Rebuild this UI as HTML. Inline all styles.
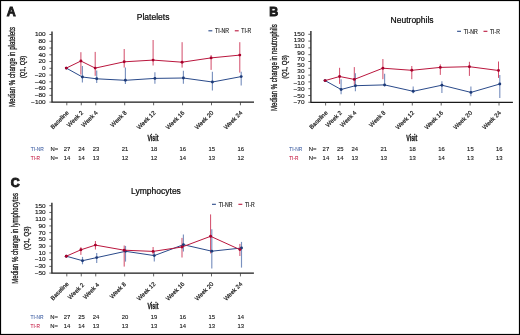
<!DOCTYPE html>
<html><head><meta charset="utf-8"><style>
html,body{margin:0;padding:0;background:#fff;}
body{width:520px;height:335px;overflow:hidden;}
svg{display:block;will-change:transform;font-family:"Liberation Sans", sans-serif;}
</style></head><body>
<svg width="520" height="335" viewBox="0 0 520 335">
<rect x="0" y="0" width="520" height="335" fill="#fff"/>
<path d="M52.0 31.4 V102.1 H254" fill="none" stroke="#1a1a1a" stroke-width="1.3"/>
<line x1="49.4" y1="34.5" x2="52.0" y2="34.5" stroke="#333" stroke-width="0.75"/>
<line x1="49.4" y1="41.26" x2="52.0" y2="41.26" stroke="#333" stroke-width="0.75"/>
<line x1="49.4" y1="48.02" x2="52.0" y2="48.02" stroke="#333" stroke-width="0.75"/>
<line x1="49.4" y1="54.78" x2="52.0" y2="54.78" stroke="#333" stroke-width="0.75"/>
<line x1="49.4" y1="61.54" x2="52.0" y2="61.54" stroke="#333" stroke-width="0.75"/>
<line x1="49.4" y1="68.3" x2="52.0" y2="68.3" stroke="#333" stroke-width="0.75"/>
<line x1="49.4" y1="75.06" x2="52.0" y2="75.06" stroke="#333" stroke-width="0.75"/>
<line x1="49.4" y1="81.82" x2="52.0" y2="81.82" stroke="#333" stroke-width="0.75"/>
<line x1="49.4" y1="88.58" x2="52.0" y2="88.58" stroke="#333" stroke-width="0.75"/>
<line x1="49.4" y1="95.34" x2="52.0" y2="95.34" stroke="#333" stroke-width="0.75"/>
<line x1="49.4" y1="102.1" x2="52.0" y2="102.1" stroke="#333" stroke-width="0.75"/>
<text x="0" y="0" font-size="5.9" text-anchor="end" fill="#1a1a1a" font-weight="normal" stroke="#1a1a1a" stroke-width="0.15" transform="translate(45.7 36.35) scale(1.1 1)">100</text>
<text x="0" y="0" font-size="5.9" text-anchor="end" fill="#1a1a1a" font-weight="normal" stroke="#1a1a1a" stroke-width="0.15" transform="translate(45.7 43.11) scale(1.1 1)">80</text>
<text x="0" y="0" font-size="5.9" text-anchor="end" fill="#1a1a1a" font-weight="normal" stroke="#1a1a1a" stroke-width="0.15" transform="translate(45.7 49.87) scale(1.1 1)">60</text>
<text x="0" y="0" font-size="5.9" text-anchor="end" fill="#1a1a1a" font-weight="normal" stroke="#1a1a1a" stroke-width="0.15" transform="translate(45.7 56.63) scale(1.1 1)">40</text>
<text x="0" y="0" font-size="5.9" text-anchor="end" fill="#1a1a1a" font-weight="normal" stroke="#1a1a1a" stroke-width="0.15" transform="translate(45.7 63.39) scale(1.1 1)">20</text>
<text x="0" y="0" font-size="5.9" text-anchor="end" fill="#1a1a1a" font-weight="normal" stroke="#1a1a1a" stroke-width="0.15" transform="translate(45.7 70.15) scale(1.1 1)">0</text>
<text x="0" y="0" font-size="5.9" text-anchor="end" fill="#1a1a1a" font-weight="normal" stroke="#1a1a1a" stroke-width="0.15" transform="translate(45.7 76.91) scale(1.1 1)">−20</text>
<text x="0" y="0" font-size="5.9" text-anchor="end" fill="#1a1a1a" font-weight="normal" stroke="#1a1a1a" stroke-width="0.15" transform="translate(45.7 83.67) scale(1.1 1)">−40</text>
<text x="0" y="0" font-size="5.9" text-anchor="end" fill="#1a1a1a" font-weight="normal" stroke="#1a1a1a" stroke-width="0.15" transform="translate(45.7 90.43) scale(1.1 1)">−60</text>
<text x="0" y="0" font-size="5.9" text-anchor="end" fill="#1a1a1a" font-weight="normal" stroke="#1a1a1a" stroke-width="0.15" transform="translate(45.7 97.19) scale(1.1 1)">−80</text>
<text x="0" y="0" font-size="5.9" text-anchor="end" fill="#1a1a1a" font-weight="normal" stroke="#1a1a1a" stroke-width="0.15" transform="translate(45.7 103.95) scale(1.1 1)">−100</text>
<line x1="66.8" y1="102.1" x2="66.8" y2="105.3" stroke="#333" stroke-width="0.75"/>
<text x="69.2" y="113.2" font-size="6.0" text-anchor="end" fill="#1a1a1a" font-weight="normal" stroke="#1a1a1a" stroke-width="0.2" transform="rotate(-45 69.20 113.2)">Baseline</text>
<line x1="81.27" y1="102.1" x2="81.27" y2="105.3" stroke="#333" stroke-width="0.75"/>
<text x="83.67" y="113.2" font-size="6.0" text-anchor="end" fill="#1a1a1a" font-weight="normal" stroke="#1a1a1a" stroke-width="0.2" transform="rotate(-45 83.67 113.2)">Week 2</text>
<line x1="95.74" y1="102.1" x2="95.74" y2="105.3" stroke="#333" stroke-width="0.75"/>
<text x="98.14" y="113.2" font-size="6.0" text-anchor="end" fill="#1a1a1a" font-weight="normal" stroke="#1a1a1a" stroke-width="0.2" transform="rotate(-45 98.14 113.2)">Week 4</text>
<line x1="124.68" y1="102.1" x2="124.68" y2="105.3" stroke="#333" stroke-width="0.75"/>
<text x="127.08" y="113.2" font-size="6.0" text-anchor="end" fill="#1a1a1a" font-weight="normal" stroke="#1a1a1a" stroke-width="0.2" transform="rotate(-45 127.08 113.2)">Week 8</text>
<line x1="153.62" y1="102.1" x2="153.62" y2="105.3" stroke="#333" stroke-width="0.75"/>
<text x="156.02" y="113.2" font-size="6.0" text-anchor="end" fill="#1a1a1a" font-weight="normal" stroke="#1a1a1a" stroke-width="0.2" transform="rotate(-45 156.02 113.2)">Week 12</text>
<line x1="182.56" y1="102.1" x2="182.56" y2="105.3" stroke="#333" stroke-width="0.75"/>
<text x="184.96" y="113.2" font-size="6.0" text-anchor="end" fill="#1a1a1a" font-weight="normal" stroke="#1a1a1a" stroke-width="0.2" transform="rotate(-45 184.96 113.2)">Week 16</text>
<line x1="211.5" y1="102.1" x2="211.5" y2="105.3" stroke="#333" stroke-width="0.75"/>
<text x="213.9" y="113.2" font-size="6.0" text-anchor="end" fill="#1a1a1a" font-weight="normal" stroke="#1a1a1a" stroke-width="0.2" transform="rotate(-45 213.90 113.2)">Week 20</text>
<line x1="240.44" y1="102.1" x2="240.44" y2="105.3" stroke="#333" stroke-width="0.75"/>
<text x="242.84" y="113.2" font-size="6.0" text-anchor="end" fill="#1a1a1a" font-weight="normal" stroke="#1a1a1a" stroke-width="0.2" transform="rotate(-45 242.84 113.2)">Week 24</text>
<text x="153.1" y="20.2" font-size="8.5" text-anchor="middle" fill="#0a0a0a" font-weight="normal" stroke="#0a0a0a" stroke-width="0.22" >Platelets</text>
<line x1="208.4" y1="30.8" x2="212.3" y2="30.8" stroke="#2a4a8a" stroke-width="1.1"/>
<text x="215.1" y="33.3" font-size="6.6" text-anchor="start" fill="#1a1a1a" font-weight="normal" textLength="13.9" lengthAdjust="spacingAndGlyphs" stroke="#1a1a1a" stroke-width="0.15" >TI-NR</text>
<line x1="234.8" y1="30.8" x2="238.7" y2="30.8" stroke="#ba163d" stroke-width="1.1"/>
<text x="241.3" y="33.3" font-size="6.6" text-anchor="start" fill="#1a1a1a" font-weight="normal" textLength="9.9" lengthAdjust="spacingAndGlyphs" stroke="#1a1a1a" stroke-width="0.15" >TI-R</text>
<text x="14.5" y="67.0" font-size="8.2" text-anchor="middle" fill="#1a1a1a" font-weight="normal" textLength="80.1" lengthAdjust="spacingAndGlyphs" stroke="#1a1a1a" stroke-width="0.3" transform="rotate(-90 14.5 67.0)">Median % change in platelets</text>
<text x="25.5" y="66.9" font-size="7.2" text-anchor="middle" fill="#1a1a1a" font-weight="normal" textLength="22.4" lengthAdjust="spacingAndGlyphs" stroke="#1a1a1a" stroke-width="0.3" transform="rotate(-90 25.5 66.9)">(Q1, Q3)</text>
<text x="147.4" y="140.5" font-size="8.6" text-anchor="start" fill="#1a1a1a" font-weight="bold" textLength="11.2" lengthAdjust="spacingAndGlyphs" stroke="#1a1a1a" stroke-width="0.3" >Visit</text>
<text x="30.8" y="151" font-size="5.9" text-anchor="start" fill="#4a68a8" font-weight="normal" textLength="13" lengthAdjust="spacingAndGlyphs" stroke="#4a68a8" stroke-width="0.1" >TI-NR</text>
<text x="30.8" y="159.9" font-size="5.9" text-anchor="start" fill="#c8284e" font-weight="normal" textLength="9.2" lengthAdjust="spacingAndGlyphs" stroke="#c8284e" stroke-width="0.1" >TI-R</text>
<text x="50.400000000000006" y="151" font-size="5.9" text-anchor="start" fill="#1a1a1a" font-weight="normal" stroke="#1a1a1a" stroke-width="0.12" >N=</text>
<text x="50.400000000000006" y="159.9" font-size="5.9" text-anchor="start" fill="#1a1a1a" font-weight="normal" stroke="#1a1a1a" stroke-width="0.12" >N=</text>
<text x="67.1" y="151" font-size="5.9" text-anchor="middle" fill="#1a1a1a" font-weight="normal" stroke="#1a1a1a" stroke-width="0.12" >27</text>
<text x="67.1" y="159.9" font-size="5.9" text-anchor="middle" fill="#1a1a1a" font-weight="normal" stroke="#1a1a1a" stroke-width="0.12" >14</text>
<text x="81.57" y="151" font-size="5.9" text-anchor="middle" fill="#1a1a1a" font-weight="normal" stroke="#1a1a1a" stroke-width="0.12" >24</text>
<text x="81.57" y="159.9" font-size="5.9" text-anchor="middle" fill="#1a1a1a" font-weight="normal" stroke="#1a1a1a" stroke-width="0.12" >14</text>
<text x="96.04" y="151" font-size="5.9" text-anchor="middle" fill="#1a1a1a" font-weight="normal" stroke="#1a1a1a" stroke-width="0.12" >23</text>
<text x="96.04" y="159.9" font-size="5.9" text-anchor="middle" fill="#1a1a1a" font-weight="normal" stroke="#1a1a1a" stroke-width="0.12" >13</text>
<text x="124.98" y="151" font-size="5.9" text-anchor="middle" fill="#1a1a1a" font-weight="normal" stroke="#1a1a1a" stroke-width="0.12" >21</text>
<text x="124.98" y="159.9" font-size="5.9" text-anchor="middle" fill="#1a1a1a" font-weight="normal" stroke="#1a1a1a" stroke-width="0.12" >12</text>
<text x="153.92" y="151" font-size="5.9" text-anchor="middle" fill="#1a1a1a" font-weight="normal" stroke="#1a1a1a" stroke-width="0.12" >18</text>
<text x="153.92" y="159.9" font-size="5.9" text-anchor="middle" fill="#1a1a1a" font-weight="normal" stroke="#1a1a1a" stroke-width="0.12" >12</text>
<text x="182.86" y="151" font-size="5.9" text-anchor="middle" fill="#1a1a1a" font-weight="normal" stroke="#1a1a1a" stroke-width="0.12" >16</text>
<text x="182.86" y="159.9" font-size="5.9" text-anchor="middle" fill="#1a1a1a" font-weight="normal" stroke="#1a1a1a" stroke-width="0.12" >14</text>
<text x="211.8" y="151" font-size="5.9" text-anchor="middle" fill="#1a1a1a" font-weight="normal" stroke="#1a1a1a" stroke-width="0.12" >15</text>
<text x="211.8" y="159.9" font-size="5.9" text-anchor="middle" fill="#1a1a1a" font-weight="normal" stroke="#1a1a1a" stroke-width="0.12" >13</text>
<text x="240.74" y="151" font-size="5.9" text-anchor="middle" fill="#1a1a1a" font-weight="normal" stroke="#1a1a1a" stroke-width="0.12" >16</text>
<text x="240.74" y="159.9" font-size="5.9" text-anchor="middle" fill="#1a1a1a" font-weight="normal" stroke="#1a1a1a" stroke-width="0.12" >12</text>
<line x1="80.9" y1="52.2" x2="80.9" y2="74.6" stroke="#d24a68" stroke-width="1.0"/>
<line x1="95.2" y1="51.9" x2="95.2" y2="75.8" stroke="#d24a68" stroke-width="1.0"/>
<line x1="124.2" y1="49" x2="124.2" y2="67.6" stroke="#d24a68" stroke-width="1.0"/>
<line x1="153.1" y1="40" x2="153.1" y2="65.5" stroke="#d24a68" stroke-width="1.0"/>
<line x1="182.1" y1="42.2" x2="182.1" y2="67.6" stroke="#d24a68" stroke-width="1.0"/>
<line x1="211.1" y1="55.1" x2="211.1" y2="69.9" stroke="#d24a68" stroke-width="1.0"/>
<line x1="239.8" y1="42.2" x2="239.8" y2="72.6" stroke="#d24a68" stroke-width="1.0"/>
<line x1="82.4" y1="66.1" x2="82.4" y2="82.5" stroke="#7a91bf" stroke-width="1.15"/>
<line x1="96.7" y1="70.6" x2="96.7" y2="83" stroke="#7a91bf" stroke-width="1.15"/>
<line x1="125.4" y1="67.6" x2="125.4" y2="84" stroke="#7a91bf" stroke-width="1.15"/>
<line x1="154.9" y1="72.3" x2="154.9" y2="83.7" stroke="#7a91bf" stroke-width="1.15"/>
<line x1="183.4" y1="70.8" x2="183.4" y2="83.7" stroke="#7a91bf" stroke-width="1.15"/>
<line x1="212.4" y1="71.7" x2="212.4" y2="90.6" stroke="#7a91bf" stroke-width="1.15"/>
<line x1="241.2" y1="71.7" x2="241.2" y2="85.5" stroke="#7a91bf" stroke-width="1.15"/>
<path d="M66.3 68.1 L82.4 77 L96.7 78.8 L125.4 80.3 L154.9 78.4 L183.4 78 L212.4 82 L241.2 76.6" fill="none" stroke="#2a4a8a" stroke-width="1.0" stroke-linejoin="round"/>
<circle cx="66.3" cy="68.1" r="1.45" fill="#1d3a78"/>
<circle cx="82.4" cy="77" r="1.45" fill="#1d3a78"/>
<circle cx="96.7" cy="78.8" r="1.45" fill="#1d3a78"/>
<circle cx="125.4" cy="80.3" r="1.45" fill="#1d3a78"/>
<circle cx="154.9" cy="78.4" r="1.45" fill="#1d3a78"/>
<circle cx="183.4" cy="78" r="1.45" fill="#1d3a78"/>
<circle cx="212.4" cy="82" r="1.45" fill="#1d3a78"/>
<circle cx="241.2" cy="76.6" r="1.45" fill="#1d3a78"/>
<path d="M66.3 68.1 L80.9 61 L95.2 68.1 L124.2 61.8 L153.1 60.1 L182.1 62.2 L211.1 57.9 L239.8 55.1" fill="none" stroke="#ba163d" stroke-width="1.0" stroke-linejoin="round"/>
<circle cx="66.3" cy="68.1" r="1.45" fill="#a8002c"/>
<circle cx="80.9" cy="61" r="1.45" fill="#a8002c"/>
<circle cx="95.2" cy="68.1" r="1.45" fill="#a8002c"/>
<circle cx="124.2" cy="61.8" r="1.45" fill="#a8002c"/>
<circle cx="153.1" cy="60.1" r="1.45" fill="#a8002c"/>
<circle cx="182.1" cy="62.2" r="1.45" fill="#a8002c"/>
<circle cx="211.1" cy="57.9" r="1.45" fill="#a8002c"/>
<circle cx="239.8" cy="55.1" r="1.45" fill="#a8002c"/>
<path d="M310.9 31.1 V102.3 H512.9" fill="none" stroke="#1a1a1a" stroke-width="1.3"/>
<line x1="308.3" y1="34.3" x2="310.9" y2="34.3" stroke="#333" stroke-width="0.75"/>
<line x1="308.3" y1="41.1" x2="310.9" y2="41.1" stroke="#333" stroke-width="0.75"/>
<line x1="308.3" y1="47.9" x2="310.9" y2="47.9" stroke="#333" stroke-width="0.75"/>
<line x1="308.3" y1="54.7" x2="310.9" y2="54.7" stroke="#333" stroke-width="0.75"/>
<line x1="308.3" y1="61.5" x2="310.9" y2="61.5" stroke="#333" stroke-width="0.75"/>
<line x1="308.3" y1="68.3" x2="310.9" y2="68.3" stroke="#333" stroke-width="0.75"/>
<line x1="308.3" y1="75.1" x2="310.9" y2="75.1" stroke="#333" stroke-width="0.75"/>
<line x1="308.3" y1="81.9" x2="310.9" y2="81.9" stroke="#333" stroke-width="0.75"/>
<line x1="308.3" y1="88.7" x2="310.9" y2="88.7" stroke="#333" stroke-width="0.75"/>
<line x1="308.3" y1="95.5" x2="310.9" y2="95.5" stroke="#333" stroke-width="0.75"/>
<line x1="308.3" y1="102.3" x2="310.9" y2="102.3" stroke="#333" stroke-width="0.75"/>
<text x="0" y="0" font-size="5.9" text-anchor="end" fill="#1a1a1a" font-weight="normal" stroke="#1a1a1a" stroke-width="0.15" transform="translate(304.5 36.15) scale(1.1 1)">150</text>
<text x="0" y="0" font-size="5.9" text-anchor="end" fill="#1a1a1a" font-weight="normal" stroke="#1a1a1a" stroke-width="0.15" transform="translate(304.5 42.29) scale(1.1 1)">130</text>
<text x="0" y="0" font-size="5.9" text-anchor="end" fill="#1a1a1a" font-weight="normal" stroke="#1a1a1a" stroke-width="0.15" transform="translate(304.5 48.44) scale(1.1 1)">110</text>
<text x="0" y="0" font-size="5.9" text-anchor="end" fill="#1a1a1a" font-weight="normal" stroke="#1a1a1a" stroke-width="0.15" transform="translate(304.5 54.59) scale(1.1 1)">90</text>
<text x="0" y="0" font-size="5.9" text-anchor="end" fill="#1a1a1a" font-weight="normal" stroke="#1a1a1a" stroke-width="0.15" transform="translate(304.5 60.73) scale(1.1 1)">70</text>
<text x="0" y="0" font-size="5.9" text-anchor="end" fill="#1a1a1a" font-weight="normal" stroke="#1a1a1a" stroke-width="0.15" transform="translate(304.5 66.87) scale(1.1 1)">50</text>
<text x="0" y="0" font-size="5.9" text-anchor="end" fill="#1a1a1a" font-weight="normal" stroke="#1a1a1a" stroke-width="0.15" transform="translate(304.5 73.02) scale(1.1 1)">30</text>
<text x="0" y="0" font-size="5.9" text-anchor="end" fill="#1a1a1a" font-weight="normal" stroke="#1a1a1a" stroke-width="0.15" transform="translate(304.5 79.16) scale(1.1 1)">10</text>
<text x="0" y="0" font-size="5.9" text-anchor="end" fill="#1a1a1a" font-weight="normal" stroke="#1a1a1a" stroke-width="0.15" transform="translate(304.5 85.31) scale(1.1 1)">−10</text>
<text x="0" y="0" font-size="5.9" text-anchor="end" fill="#1a1a1a" font-weight="normal" stroke="#1a1a1a" stroke-width="0.15" transform="translate(304.5 91.45) scale(1.1 1)">−30</text>
<text x="0" y="0" font-size="5.9" text-anchor="end" fill="#1a1a1a" font-weight="normal" stroke="#1a1a1a" stroke-width="0.15" transform="translate(304.5 97.6) scale(1.1 1)">−50</text>
<text x="0" y="0" font-size="5.9" text-anchor="end" fill="#1a1a1a" font-weight="normal" stroke="#1a1a1a" stroke-width="0.15" transform="translate(304.5 103.74) scale(1.1 1)">−70</text>
<line x1="325.6" y1="102.3" x2="325.6" y2="105.5" stroke="#333" stroke-width="0.75"/>
<text x="328.0" y="113.2" font-size="6.0" text-anchor="end" fill="#1a1a1a" font-weight="normal" stroke="#1a1a1a" stroke-width="0.2" transform="rotate(-45 328.00 113.2)">Baseline</text>
<line x1="340.05" y1="102.3" x2="340.05" y2="105.5" stroke="#333" stroke-width="0.75"/>
<text x="342.45" y="113.2" font-size="6.0" text-anchor="end" fill="#1a1a1a" font-weight="normal" stroke="#1a1a1a" stroke-width="0.2" transform="rotate(-45 342.45 113.2)">Week 2</text>
<line x1="354.5" y1="102.3" x2="354.5" y2="105.5" stroke="#333" stroke-width="0.75"/>
<text x="356.9" y="113.2" font-size="6.0" text-anchor="end" fill="#1a1a1a" font-weight="normal" stroke="#1a1a1a" stroke-width="0.2" transform="rotate(-45 356.90 113.2)">Week 4</text>
<line x1="383.4" y1="102.3" x2="383.4" y2="105.5" stroke="#333" stroke-width="0.75"/>
<text x="385.8" y="113.2" font-size="6.0" text-anchor="end" fill="#1a1a1a" font-weight="normal" stroke="#1a1a1a" stroke-width="0.2" transform="rotate(-45 385.80 113.2)">Week 8</text>
<line x1="412.3" y1="102.3" x2="412.3" y2="105.5" stroke="#333" stroke-width="0.75"/>
<text x="414.7" y="113.2" font-size="6.0" text-anchor="end" fill="#1a1a1a" font-weight="normal" stroke="#1a1a1a" stroke-width="0.2" transform="rotate(-45 414.70 113.2)">Week 12</text>
<line x1="441.2" y1="102.3" x2="441.2" y2="105.5" stroke="#333" stroke-width="0.75"/>
<text x="443.6" y="113.2" font-size="6.0" text-anchor="end" fill="#1a1a1a" font-weight="normal" stroke="#1a1a1a" stroke-width="0.2" transform="rotate(-45 443.60 113.2)">Week 16</text>
<line x1="470.1" y1="102.3" x2="470.1" y2="105.5" stroke="#333" stroke-width="0.75"/>
<text x="472.5" y="113.2" font-size="6.0" text-anchor="end" fill="#1a1a1a" font-weight="normal" stroke="#1a1a1a" stroke-width="0.2" transform="rotate(-45 472.50 113.2)">Week 20</text>
<line x1="499.0" y1="102.3" x2="499.0" y2="105.5" stroke="#333" stroke-width="0.75"/>
<text x="501.4" y="113.2" font-size="6.0" text-anchor="end" fill="#1a1a1a" font-weight="normal" stroke="#1a1a1a" stroke-width="0.2" transform="rotate(-45 501.40 113.2)">Week 24</text>
<text x="412.1" y="22.8" font-size="8.5" text-anchor="middle" fill="#0a0a0a" font-weight="normal" stroke="#0a0a0a" stroke-width="0.22" >Neutrophils</text>
<line x1="457.1" y1="31.3" x2="461.0" y2="31.3" stroke="#2a4a8a" stroke-width="1.1"/>
<text x="463.8" y="33.8" font-size="6.6" text-anchor="start" fill="#1a1a1a" font-weight="normal" textLength="13.9" lengthAdjust="spacingAndGlyphs" stroke="#1a1a1a" stroke-width="0.15" >TI-NR</text>
<line x1="483.5" y1="31.3" x2="487.4" y2="31.3" stroke="#ba163d" stroke-width="1.1"/>
<text x="490.0" y="33.8" font-size="6.6" text-anchor="start" fill="#1a1a1a" font-weight="normal" textLength="9.9" lengthAdjust="spacingAndGlyphs" stroke="#1a1a1a" stroke-width="0.15" >TI-R</text>
<text x="276.7" y="67.6" font-size="8.2" text-anchor="middle" fill="#1a1a1a" font-weight="normal" textLength="86.7" lengthAdjust="spacingAndGlyphs" stroke="#1a1a1a" stroke-width="0.3" transform="rotate(-90 276.7 67.6)">Median % change in neutrophils</text>
<text x="287.3" y="67.0" font-size="7.2" text-anchor="middle" fill="#1a1a1a" font-weight="normal" textLength="23.6" lengthAdjust="spacingAndGlyphs" stroke="#1a1a1a" stroke-width="0.3" transform="rotate(-90 287.3 67.0)">(Q1, Q3)</text>
<text x="406.2" y="140.5" font-size="8.6" text-anchor="start" fill="#1a1a1a" font-weight="bold" textLength="11.2" lengthAdjust="spacingAndGlyphs" stroke="#1a1a1a" stroke-width="0.3" >Visit</text>
<text x="289.2" y="150.8" font-size="5.9" text-anchor="start" fill="#4a68a8" font-weight="normal" textLength="13" lengthAdjust="spacingAndGlyphs" stroke="#4a68a8" stroke-width="0.1" >TI-NR</text>
<text x="289.2" y="159.6" font-size="5.9" text-anchor="start" fill="#c8284e" font-weight="normal" textLength="9.2" lengthAdjust="spacingAndGlyphs" stroke="#c8284e" stroke-width="0.1" >TI-R</text>
<text x="308.8" y="150.8" font-size="5.9" text-anchor="start" fill="#1a1a1a" font-weight="normal" stroke="#1a1a1a" stroke-width="0.12" >N=</text>
<text x="308.8" y="159.6" font-size="5.9" text-anchor="start" fill="#1a1a1a" font-weight="normal" stroke="#1a1a1a" stroke-width="0.12" >N=</text>
<text x="325.9" y="150.8" font-size="5.9" text-anchor="middle" fill="#1a1a1a" font-weight="normal" stroke="#1a1a1a" stroke-width="0.12" >27</text>
<text x="325.9" y="159.6" font-size="5.9" text-anchor="middle" fill="#1a1a1a" font-weight="normal" stroke="#1a1a1a" stroke-width="0.12" >14</text>
<text x="340.35" y="150.8" font-size="5.9" text-anchor="middle" fill="#1a1a1a" font-weight="normal" stroke="#1a1a1a" stroke-width="0.12" >25</text>
<text x="340.35" y="159.6" font-size="5.9" text-anchor="middle" fill="#1a1a1a" font-weight="normal" stroke="#1a1a1a" stroke-width="0.12" >14</text>
<text x="354.8" y="150.8" font-size="5.9" text-anchor="middle" fill="#1a1a1a" font-weight="normal" stroke="#1a1a1a" stroke-width="0.12" >24</text>
<text x="354.8" y="159.6" font-size="5.9" text-anchor="middle" fill="#1a1a1a" font-weight="normal" stroke="#1a1a1a" stroke-width="0.12" >13</text>
<text x="383.7" y="150.8" font-size="5.9" text-anchor="middle" fill="#1a1a1a" font-weight="normal" stroke="#1a1a1a" stroke-width="0.12" >21</text>
<text x="383.7" y="159.6" font-size="5.9" text-anchor="middle" fill="#1a1a1a" font-weight="normal" stroke="#1a1a1a" stroke-width="0.12" >13</text>
<text x="412.6" y="150.8" font-size="5.9" text-anchor="middle" fill="#1a1a1a" font-weight="normal" stroke="#1a1a1a" stroke-width="0.12" >18</text>
<text x="412.6" y="159.6" font-size="5.9" text-anchor="middle" fill="#1a1a1a" font-weight="normal" stroke="#1a1a1a" stroke-width="0.12" >13</text>
<text x="441.5" y="150.8" font-size="5.9" text-anchor="middle" fill="#1a1a1a" font-weight="normal" stroke="#1a1a1a" stroke-width="0.12" >16</text>
<text x="441.5" y="159.6" font-size="5.9" text-anchor="middle" fill="#1a1a1a" font-weight="normal" stroke="#1a1a1a" stroke-width="0.12" >14</text>
<text x="470.4" y="150.8" font-size="5.9" text-anchor="middle" fill="#1a1a1a" font-weight="normal" stroke="#1a1a1a" stroke-width="0.12" >15</text>
<text x="470.4" y="159.6" font-size="5.9" text-anchor="middle" fill="#1a1a1a" font-weight="normal" stroke="#1a1a1a" stroke-width="0.12" >13</text>
<text x="499.3" y="150.8" font-size="5.9" text-anchor="middle" fill="#1a1a1a" font-weight="normal" stroke="#1a1a1a" stroke-width="0.12" >16</text>
<text x="499.3" y="159.6" font-size="5.9" text-anchor="middle" fill="#1a1a1a" font-weight="normal" stroke="#1a1a1a" stroke-width="0.12" >13</text>
<line x1="339.6" y1="67.8" x2="339.6" y2="83.9" stroke="#d24a68" stroke-width="1.0"/>
<line x1="354.3" y1="67.1" x2="354.3" y2="84.6" stroke="#d24a68" stroke-width="1.0"/>
<line x1="382.9" y1="59" x2="382.9" y2="79.2" stroke="#d24a68" stroke-width="1.0"/>
<line x1="411.8" y1="66" x2="411.8" y2="79.2" stroke="#d24a68" stroke-width="1.0"/>
<line x1="440.3" y1="64.4" x2="440.3" y2="74.9" stroke="#d24a68" stroke-width="1.0"/>
<line x1="469.4" y1="61.8" x2="469.4" y2="75.9" stroke="#d24a68" stroke-width="1.0"/>
<line x1="498.5" y1="61.5" x2="498.5" y2="77.9" stroke="#d24a68" stroke-width="1.0"/>
<line x1="341.1" y1="79.2" x2="341.1" y2="94.3" stroke="#7a91bf" stroke-width="1.15"/>
<line x1="355.4" y1="73.2" x2="355.4" y2="91.3" stroke="#7a91bf" stroke-width="1.15"/>
<line x1="384.6" y1="73.8" x2="384.6" y2="86.6" stroke="#7a91bf" stroke-width="1.15"/>
<line x1="413.2" y1="86.6" x2="413.2" y2="93.3" stroke="#7a91bf" stroke-width="1.15"/>
<line x1="441.9" y1="81.2" x2="441.9" y2="92.9" stroke="#7a91bf" stroke-width="1.15"/>
<line x1="470.9" y1="86.5" x2="470.9" y2="96.3" stroke="#7a91bf" stroke-width="1.15"/>
<line x1="499.8" y1="75" x2="499.8" y2="98" stroke="#7a91bf" stroke-width="1.15"/>
<path d="M325.1 80.6 L341.1 89.5 L355.4 85.7 L384.6 84.9 L413.2 91.3 L441.9 85.2 L470.9 92.4 L499.8 84" fill="none" stroke="#2a4a8a" stroke-width="1.0" stroke-linejoin="round"/>
<circle cx="325.1" cy="80.6" r="1.45" fill="#1d3a78"/>
<circle cx="341.1" cy="89.5" r="1.45" fill="#1d3a78"/>
<circle cx="355.4" cy="85.7" r="1.45" fill="#1d3a78"/>
<circle cx="384.6" cy="84.9" r="1.45" fill="#1d3a78"/>
<circle cx="413.2" cy="91.3" r="1.45" fill="#1d3a78"/>
<circle cx="441.9" cy="85.2" r="1.45" fill="#1d3a78"/>
<circle cx="470.9" cy="92.4" r="1.45" fill="#1d3a78"/>
<circle cx="499.8" cy="84" r="1.45" fill="#1d3a78"/>
<path d="M325.1 80.6 L339.6 76.5 L354.3 79.4 L382.9 68.2 L411.8 70.3 L440.3 67.4 L469.4 66.7 L498.5 70.5" fill="none" stroke="#ba163d" stroke-width="1.0" stroke-linejoin="round"/>
<circle cx="325.1" cy="80.6" r="1.45" fill="#a8002c"/>
<circle cx="339.6" cy="76.5" r="1.45" fill="#a8002c"/>
<circle cx="354.3" cy="79.4" r="1.45" fill="#a8002c"/>
<circle cx="382.9" cy="68.2" r="1.45" fill="#a8002c"/>
<circle cx="411.8" cy="70.3" r="1.45" fill="#a8002c"/>
<circle cx="440.3" cy="67.4" r="1.45" fill="#a8002c"/>
<circle cx="469.4" cy="66.7" r="1.45" fill="#a8002c"/>
<circle cx="498.5" cy="70.5" r="1.45" fill="#a8002c"/>
<path d="M51.9 202.7 V273.2 H253.9" fill="none" stroke="#1a1a1a" stroke-width="1.3"/>
<line x1="49.3" y1="205.7" x2="51.9" y2="205.7" stroke="#333" stroke-width="0.75"/>
<line x1="49.3" y1="212.44" x2="51.9" y2="212.44" stroke="#333" stroke-width="0.75"/>
<line x1="49.3" y1="219.18" x2="51.9" y2="219.18" stroke="#333" stroke-width="0.75"/>
<line x1="49.3" y1="225.92" x2="51.9" y2="225.92" stroke="#333" stroke-width="0.75"/>
<line x1="49.3" y1="232.66" x2="51.9" y2="232.66" stroke="#333" stroke-width="0.75"/>
<line x1="49.3" y1="239.4" x2="51.9" y2="239.4" stroke="#333" stroke-width="0.75"/>
<line x1="49.3" y1="246.14" x2="51.9" y2="246.14" stroke="#333" stroke-width="0.75"/>
<line x1="49.3" y1="252.88" x2="51.9" y2="252.88" stroke="#333" stroke-width="0.75"/>
<line x1="49.3" y1="259.62" x2="51.9" y2="259.62" stroke="#333" stroke-width="0.75"/>
<line x1="49.3" y1="266.36" x2="51.9" y2="266.36" stroke="#333" stroke-width="0.75"/>
<line x1="49.3" y1="273.1" x2="51.9" y2="273.1" stroke="#333" stroke-width="0.75"/>
<text x="0" y="0" font-size="5.9" text-anchor="end" fill="#1a1a1a" font-weight="normal" stroke="#1a1a1a" stroke-width="0.15" transform="translate(45.7 207.55) scale(1.1 1)">150</text>
<text x="0" y="0" font-size="5.9" text-anchor="end" fill="#1a1a1a" font-weight="normal" stroke="#1a1a1a" stroke-width="0.15" transform="translate(45.7 214.29) scale(1.1 1)">130</text>
<text x="0" y="0" font-size="5.9" text-anchor="end" fill="#1a1a1a" font-weight="normal" stroke="#1a1a1a" stroke-width="0.15" transform="translate(45.7 221.03) scale(1.1 1)">110</text>
<text x="0" y="0" font-size="5.9" text-anchor="end" fill="#1a1a1a" font-weight="normal" stroke="#1a1a1a" stroke-width="0.15" transform="translate(45.7 227.77) scale(1.1 1)">90</text>
<text x="0" y="0" font-size="5.9" text-anchor="end" fill="#1a1a1a" font-weight="normal" stroke="#1a1a1a" stroke-width="0.15" transform="translate(45.7 234.51) scale(1.1 1)">70</text>
<text x="0" y="0" font-size="5.9" text-anchor="end" fill="#1a1a1a" font-weight="normal" stroke="#1a1a1a" stroke-width="0.15" transform="translate(45.7 241.25) scale(1.1 1)">50</text>
<text x="0" y="0" font-size="5.9" text-anchor="end" fill="#1a1a1a" font-weight="normal" stroke="#1a1a1a" stroke-width="0.15" transform="translate(45.7 247.99) scale(1.1 1)">30</text>
<text x="0" y="0" font-size="5.9" text-anchor="end" fill="#1a1a1a" font-weight="normal" stroke="#1a1a1a" stroke-width="0.15" transform="translate(45.7 254.73) scale(1.1 1)">10</text>
<text x="0" y="0" font-size="5.9" text-anchor="end" fill="#1a1a1a" font-weight="normal" stroke="#1a1a1a" stroke-width="0.15" transform="translate(45.7 261.47) scale(1.1 1)">−10</text>
<text x="0" y="0" font-size="5.9" text-anchor="end" fill="#1a1a1a" font-weight="normal" stroke="#1a1a1a" stroke-width="0.15" transform="translate(45.7 268.21) scale(1.1 1)">−30</text>
<text x="0" y="0" font-size="5.9" text-anchor="end" fill="#1a1a1a" font-weight="normal" stroke="#1a1a1a" stroke-width="0.15" transform="translate(45.7 274.95) scale(1.1 1)">−50</text>
<line x1="66.8" y1="273.2" x2="66.8" y2="276.4" stroke="#333" stroke-width="0.75"/>
<text x="69.2" y="284.4" font-size="6.0" text-anchor="end" fill="#1a1a1a" font-weight="normal" stroke="#1a1a1a" stroke-width="0.2" transform="rotate(-45 69.20 284.4)">Baseline</text>
<line x1="81.27" y1="273.2" x2="81.27" y2="276.4" stroke="#333" stroke-width="0.75"/>
<text x="84.67" y="285.4" font-size="6.0" text-anchor="end" fill="#1a1a1a" font-weight="normal" stroke="#1a1a1a" stroke-width="0.2" transform="rotate(-45 84.67 285.4)">Week 2</text>
<line x1="95.74" y1="273.2" x2="95.74" y2="276.4" stroke="#333" stroke-width="0.75"/>
<text x="99.74" y="285.2" font-size="6.0" text-anchor="end" fill="#1a1a1a" font-weight="normal" stroke="#1a1a1a" stroke-width="0.2" transform="rotate(-45 99.74 285.2)">Week 4</text>
<line x1="124.68" y1="273.2" x2="124.68" y2="276.4" stroke="#333" stroke-width="0.75"/>
<text x="126.48" y="284.7" font-size="6.0" text-anchor="end" fill="#1a1a1a" font-weight="normal" stroke="#1a1a1a" stroke-width="0.2" transform="rotate(-45 126.48 284.7)">Week 8</text>
<line x1="153.62" y1="273.2" x2="153.62" y2="276.4" stroke="#333" stroke-width="0.75"/>
<text x="156.02" y="284.4" font-size="6.0" text-anchor="end" fill="#1a1a1a" font-weight="normal" stroke="#1a1a1a" stroke-width="0.2" transform="rotate(-45 156.02 284.4)">Week 12</text>
<line x1="182.56" y1="273.2" x2="182.56" y2="276.4" stroke="#333" stroke-width="0.75"/>
<text x="184.96" y="284.4" font-size="6.0" text-anchor="end" fill="#1a1a1a" font-weight="normal" stroke="#1a1a1a" stroke-width="0.2" transform="rotate(-45 184.96 284.4)">Week 16</text>
<line x1="211.5" y1="273.2" x2="211.5" y2="276.4" stroke="#333" stroke-width="0.75"/>
<text x="213.9" y="284.4" font-size="6.0" text-anchor="end" fill="#1a1a1a" font-weight="normal" stroke="#1a1a1a" stroke-width="0.2" transform="rotate(-45 213.90 284.4)">Week 20</text>
<line x1="240.44" y1="273.2" x2="240.44" y2="276.4" stroke="#333" stroke-width="0.75"/>
<text x="242.84" y="284.4" font-size="6.0" text-anchor="end" fill="#1a1a1a" font-weight="normal" stroke="#1a1a1a" stroke-width="0.2" transform="rotate(-45 242.84 284.4)">Week 24</text>
<text x="156" y="193.5" font-size="8.5" text-anchor="middle" fill="#0a0a0a" font-weight="normal" stroke="#0a0a0a" stroke-width="0.22" >Lymphocytes</text>
<line x1="212.0" y1="204.3" x2="215.9" y2="204.3" stroke="#2a4a8a" stroke-width="1.1"/>
<text x="218.7" y="206.8" font-size="6.6" text-anchor="start" fill="#1a1a1a" font-weight="normal" textLength="13.9" lengthAdjust="spacingAndGlyphs" stroke="#1a1a1a" stroke-width="0.15" >TI-NR</text>
<line x1="238.4" y1="204.3" x2="242.3" y2="204.3" stroke="#ba163d" stroke-width="1.1"/>
<text x="244.9" y="206.8" font-size="6.6" text-anchor="start" fill="#1a1a1a" font-weight="normal" textLength="9.9" lengthAdjust="spacingAndGlyphs" stroke="#1a1a1a" stroke-width="0.15" >TI-R</text>
<text x="17.9" y="238.4" font-size="8.2" text-anchor="middle" fill="#1a1a1a" font-weight="normal" textLength="90.7" lengthAdjust="spacingAndGlyphs" stroke="#1a1a1a" stroke-width="0.3" transform="rotate(-90 17.9 238.4)">Median % change in lymphocytes</text>
<text x="28.8" y="238.2" font-size="7.2" text-anchor="middle" fill="#1a1a1a" font-weight="normal" textLength="23.6" lengthAdjust="spacingAndGlyphs" stroke="#1a1a1a" stroke-width="0.3" transform="rotate(-90 28.8 238.2)">(Q1, Q3)</text>
<text x="147.4" y="308.8" font-size="8.6" text-anchor="start" fill="#1a1a1a" font-weight="bold" textLength="11.2" lengthAdjust="spacingAndGlyphs" stroke="#1a1a1a" stroke-width="0.3" >Visit</text>
<text x="30.6" y="318.8" font-size="5.9" text-anchor="start" fill="#4a68a8" font-weight="normal" textLength="13" lengthAdjust="spacingAndGlyphs" stroke="#4a68a8" stroke-width="0.1" >TI-NR</text>
<text x="30.6" y="328.0" font-size="5.9" text-anchor="start" fill="#c8284e" font-weight="normal" textLength="9.2" lengthAdjust="spacingAndGlyphs" stroke="#c8284e" stroke-width="0.1" >TI-R</text>
<text x="50.2" y="318.8" font-size="5.9" text-anchor="start" fill="#1a1a1a" font-weight="normal" stroke="#1a1a1a" stroke-width="0.12" >N=</text>
<text x="50.2" y="328.0" font-size="5.9" text-anchor="start" fill="#1a1a1a" font-weight="normal" stroke="#1a1a1a" stroke-width="0.12" >N=</text>
<text x="67.1" y="318.8" font-size="5.9" text-anchor="middle" fill="#1a1a1a" font-weight="normal" stroke="#1a1a1a" stroke-width="0.12" >27</text>
<text x="67.1" y="328.0" font-size="5.9" text-anchor="middle" fill="#1a1a1a" font-weight="normal" stroke="#1a1a1a" stroke-width="0.12" >14</text>
<text x="81.57" y="318.8" font-size="5.9" text-anchor="middle" fill="#1a1a1a" font-weight="normal" stroke="#1a1a1a" stroke-width="0.12" >25</text>
<text x="81.57" y="328.0" font-size="5.9" text-anchor="middle" fill="#1a1a1a" font-weight="normal" stroke="#1a1a1a" stroke-width="0.12" >14</text>
<text x="96.04" y="318.8" font-size="5.9" text-anchor="middle" fill="#1a1a1a" font-weight="normal" stroke="#1a1a1a" stroke-width="0.12" >24</text>
<text x="96.04" y="328.0" font-size="5.9" text-anchor="middle" fill="#1a1a1a" font-weight="normal" stroke="#1a1a1a" stroke-width="0.12" >13</text>
<text x="124.98" y="318.8" font-size="5.9" text-anchor="middle" fill="#1a1a1a" font-weight="normal" stroke="#1a1a1a" stroke-width="0.12" >20</text>
<text x="124.98" y="328.0" font-size="5.9" text-anchor="middle" fill="#1a1a1a" font-weight="normal" stroke="#1a1a1a" stroke-width="0.12" >13</text>
<text x="153.92" y="318.8" font-size="5.9" text-anchor="middle" fill="#1a1a1a" font-weight="normal" stroke="#1a1a1a" stroke-width="0.12" >19</text>
<text x="153.92" y="328.0" font-size="5.9" text-anchor="middle" fill="#1a1a1a" font-weight="normal" stroke="#1a1a1a" stroke-width="0.12" >13</text>
<text x="182.86" y="318.8" font-size="5.9" text-anchor="middle" fill="#1a1a1a" font-weight="normal" stroke="#1a1a1a" stroke-width="0.12" >16</text>
<text x="182.86" y="328.0" font-size="5.9" text-anchor="middle" fill="#1a1a1a" font-weight="normal" stroke="#1a1a1a" stroke-width="0.12" >14</text>
<text x="211.8" y="318.8" font-size="5.9" text-anchor="middle" fill="#1a1a1a" font-weight="normal" stroke="#1a1a1a" stroke-width="0.12" >15</text>
<text x="211.8" y="328.0" font-size="5.9" text-anchor="middle" fill="#1a1a1a" font-weight="normal" stroke="#1a1a1a" stroke-width="0.12" >13</text>
<text x="240.74" y="318.8" font-size="5.9" text-anchor="middle" fill="#1a1a1a" font-weight="normal" stroke="#1a1a1a" stroke-width="0.12" >14</text>
<text x="240.74" y="328.0" font-size="5.9" text-anchor="middle" fill="#1a1a1a" font-weight="normal" stroke="#1a1a1a" stroke-width="0.12" >13</text>
<line x1="80.9" y1="247.2" x2="80.9" y2="254.9" stroke="#d24a68" stroke-width="1.0"/>
<line x1="95.4" y1="241" x2="95.4" y2="249.5" stroke="#d24a68" stroke-width="1.0"/>
<line x1="124.2" y1="245.5" x2="124.2" y2="266.6" stroke="#d24a68" stroke-width="1.0"/>
<line x1="153.1" y1="247" x2="153.1" y2="254.8" stroke="#d24a68" stroke-width="1.0"/>
<line x1="182" y1="237.9" x2="182" y2="257.5" stroke="#d24a68" stroke-width="1.0"/>
<line x1="210.6" y1="214.4" x2="210.6" y2="253.4" stroke="#d24a68" stroke-width="1.0"/>
<line x1="239.9" y1="243.9" x2="239.9" y2="256" stroke="#d24a68" stroke-width="1.0"/>
<line x1="82.5" y1="256.9" x2="82.5" y2="264.3" stroke="#7a91bf" stroke-width="1.15"/>
<line x1="96.7" y1="252.9" x2="96.7" y2="263" stroke="#7a91bf" stroke-width="1.15"/>
<line x1="125.5" y1="245.9" x2="125.5" y2="261.6" stroke="#7a91bf" stroke-width="1.15"/>
<line x1="154.3" y1="251.4" x2="154.3" y2="261.5" stroke="#7a91bf" stroke-width="1.15"/>
<line x1="183.4" y1="234.6" x2="183.4" y2="251.4" stroke="#7a91bf" stroke-width="1.15"/>
<line x1="211.8" y1="229.2" x2="211.8" y2="268.6" stroke="#7a91bf" stroke-width="1.15"/>
<line x1="241.5" y1="241.9" x2="241.5" y2="267.6" stroke="#7a91bf" stroke-width="1.15"/>
<path d="M66.3 256.2 L82.5 260.7 L96.7 257.6 L125.5 251.3 L154.3 255.6 L183.4 244.7 L211.8 251.2 L241.5 248" fill="none" stroke="#2a4a8a" stroke-width="1.0" stroke-linejoin="round"/>
<circle cx="66.3" cy="256.2" r="1.45" fill="#1d3a78"/>
<circle cx="82.5" cy="260.7" r="1.45" fill="#1d3a78"/>
<circle cx="96.7" cy="257.6" r="1.45" fill="#1d3a78"/>
<circle cx="125.5" cy="251.3" r="1.45" fill="#1d3a78"/>
<circle cx="154.3" cy="255.6" r="1.45" fill="#1d3a78"/>
<circle cx="183.4" cy="244.7" r="1.45" fill="#1d3a78"/>
<circle cx="211.8" cy="251.2" r="1.45" fill="#1d3a78"/>
<circle cx="241.5" cy="248" r="1.45" fill="#1d3a78"/>
<path d="M66.3 256.2 L80.9 249.8 L95.4 245.1 L124.2 250.2 L153.1 251.4 L182 247 L210.6 236.3 L239.9 249.6" fill="none" stroke="#ba163d" stroke-width="1.0" stroke-linejoin="round"/>
<circle cx="66.3" cy="256.2" r="1.45" fill="#a8002c"/>
<circle cx="80.9" cy="249.8" r="1.45" fill="#a8002c"/>
<circle cx="95.4" cy="245.1" r="1.45" fill="#a8002c"/>
<circle cx="124.2" cy="250.2" r="1.45" fill="#a8002c"/>
<circle cx="153.1" cy="251.4" r="1.45" fill="#a8002c"/>
<circle cx="182" cy="247" r="1.45" fill="#a8002c"/>
<circle cx="210.6" cy="236.3" r="1.45" fill="#a8002c"/>
<circle cx="239.9" cy="249.6" r="1.45" fill="#a8002c"/>
<text x="6.7" y="15.5" font-size="12.4" text-anchor="start" fill="#1a1a1a" font-weight="bold" stroke="#1a1a1a" stroke-width="0.9" >A</text>
<text x="269.3" y="15.6" font-size="12.4" text-anchor="start" fill="#1a1a1a" font-weight="bold" stroke="#1a1a1a" stroke-width="0.9" >B</text>
<text x="10.7" y="186.9" font-size="12.4" text-anchor="start" fill="#1a1a1a" font-weight="bold" stroke="#1a1a1a" stroke-width="0.9" >C</text>
<rect x="0.5" y="0.5" width="519" height="334" fill="none" stroke="#000" stroke-width="1.2"/>
</svg>
</body></html>
